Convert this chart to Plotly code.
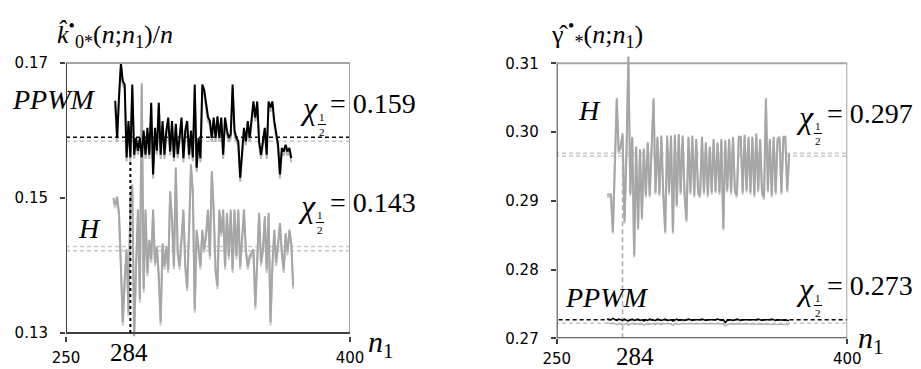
import plotly.graph_objects as go

# ---------------- data ----------------
N1_PPWM_L = list(range(276, 370))
PPWM_L = [0.1644,0.1589,0.1650,0.1700,0.1673,0.1668,0.1560,0.1614,0.1560,0.1668,
 0.1564,0.1589,0.1570,0.1589,0.1560,0.1600,0.1564,0.1604,0.1564,0.1641,
 0.1535,0.1604,0.1570,0.1641,0.1564,0.1614,0.1564,0.1600,0.1619,0.1569,
 0.1614,0.1560,0.1610,0.1565,0.1590,0.1619,0.1559,0.1600,0.1614,0.1564,
 0.1600,0.1560,0.1668,0.1545,0.1589,0.1559,0.1668,0.1660,0.1640,0.1620,
 0.1614,0.1589,0.1619,0.1589,0.1621,0.1589,0.1619,0.1564,0.1619,0.1600,
 0.1589,0.1594,0.1668,0.1600,0.1589,0.1584,0.1530,0.1574,0.1604,0.1584,
 0.1614,0.1589,0.1621,0.1643,0.1619,0.1643,0.1584,0.1564,0.1584,0.1604,
 0.1564,0.1643,0.1634,0.1643,0.1614,0.1594,0.1579,0.1535,0.1574,0.1569,
 0.1579,0.1569,0.1574,0.1559]
PPWM_L2 = [0.1638,0.1583,0.1644,0.1694,0.1667,0.1662,0.1554,0.1608,0.1554,0.1662,
 0.1558,0.1583,0.1564,0.1583,0.1554,0.1594,0.1558,0.1598,0.1558,0.1635,
 0.1529,0.1598,0.1564,0.1635,0.1558,0.1608,0.1558,0.1594,0.1613,0.1563,
 0.1608,0.1554,0.1604,0.1559,0.1584,0.1613,0.1553,0.1594,0.1608,0.1558,
 0.1594,0.1554,0.1662,0.1539,0.1583,0.1553,0.1662,0.1654,0.1634,0.1614,
 0.1608,0.1583,0.1613,0.1583,0.1615,0.1583,0.1613,0.1558,0.1613,0.1594,
 0.1583,0.1588,0.1662,0.1594,0.1583,0.1578,0.1524,0.1568,0.1598,0.1578,
 0.1608,0.1583,0.1615,0.1637,0.1613,0.1637,0.1578,0.1558,0.1578,0.1598,
 0.1558,0.1637,0.1628,0.1637,0.1608,0.1588,0.1573,0.1529,0.1568,0.1563,
 0.1573,0.1563,0.1568,0.1553]

N1_H_L = list(range(275, 371))
H_L = [0.1500,0.1490,0.1502,0.1478,0.1400,0.1316,0.1380,0.1424,0.1330,0.1500,
 0.1520,0.1296,0.1400,0.1483,0.1350,0.1670,0.1365,0.1483,0.1389,0.1438,
 0.1409,0.1483,0.1404,0.1428,0.1385,0.1316,0.1433,0.1399,0.1428,0.1394,
 0.1510,0.1470,0.1399,0.1545,0.1420,0.1399,0.1440,0.1483,0.1400,0.1367,
 0.1453,0.1550,0.1510,0.1335,0.1453,0.1420,0.1399,0.1453,0.1424,0.1448,
 0.1483,0.1414,0.1540,0.1483,0.1394,0.1370,0.1483,0.1448,0.1483,0.1399,
 0.1478,0.1414,0.1483,0.1394,0.1483,0.1414,0.1483,0.1399,0.1440,0.1483,
 0.1424,0.1399,0.1414,0.1420,0.1424,0.1340,0.1400,0.1478,0.1404,0.1424,
 0.1473,0.1394,0.1478,0.1316,0.1400,0.1453,0.1404,0.1430,0.1463,0.1420,
 0.1394,0.1448,0.1420,0.1453,0.1433,0.1370]
H_L2 = [0.1495,0.1485,0.1497,0.1473,0.1395,0.1311,0.1375,0.1419,0.1325,0.1495,
 0.1515,0.1291,0.1395,0.1478,0.1345,0.1665,0.1360,0.1478,0.1384,0.1433,
 0.1404,0.1478,0.1399,0.1423,0.1380,0.1311,0.1428,0.1394,0.1423,0.1389,
 0.1505,0.1465,0.1394,0.1540,0.1415,0.1394,0.1435,0.1478,0.1395,0.1362,
 0.1448,0.1545,0.1505,0.1330,0.1448,0.1415,0.1394,0.1448,0.1419,0.1443,
 0.1478,0.1409,0.1535,0.1478,0.1389,0.1365,0.1478,0.1443,0.1478,0.1394,
 0.1473,0.1409,0.1478,0.1389,0.1478,0.1409,0.1478,0.1394,0.1435,0.1478,
 0.1419,0.1394,0.1409,0.1415,0.1419,0.1335,0.1395,0.1473,0.1399,0.1419,
 0.1468,0.1389,0.1473,0.1311,0.1395,0.1448,0.1399,0.1425,0.1458,0.1415,
 0.1389,0.1443,0.1415,0.1448,0.1428,0.1365]

N1_R = list(range(276, 371))
H_R = [0.2909,0.2909,0.2909,0.2855,0.2975,0.3049,0.2972,0.2979,0.2998,0.2870,
 0.2969,0.3110,0.2910,0.2993,0.2821,0.2979,0.2860,0.2975,0.2875,0.2976,
 0.2908,0.2985,0.2908,0.2993,0.3049,0.2912,0.2993,0.2910,0.2995,0.2912,
 0.2855,0.2995,0.2912,0.2995,0.2855,0.2996,0.2894,0.2997,0.2912,0.2995,
 0.2910,0.2872,0.2993,0.2912,0.2995,0.2908,0.2990,0.2912,0.2908,0.2993,
 0.2912,0.2985,0.2908,0.2979,0.2912,0.2990,0.2914,0.2985,0.2912,0.2990,
 0.2860,0.2988,0.2915,0.2990,0.2912,0.2993,0.2915,0.2908,0.2993,0.2993,
 0.2912,0.2996,0.2915,0.2993,0.2912,0.2993,0.2908,0.2998,0.2915,0.2990,
 0.2912,0.2905,0.3049,0.2915,0.2990,0.2908,0.2993,0.2912,0.2990,0.2993,
 0.2912,0.2993,0.2993,0.2915,0.2969]
H_R2 = [0.2906,0.2906,0.2906,0.2852,0.2972,0.3046,0.2969,0.2976,0.2995,0.2867,
 0.2966,0.3107,0.2907,0.2990,0.2818,0.2976,0.2857,0.2972,0.2872,0.2973,
 0.2905,0.2982,0.2905,0.2990,0.3046,0.2909,0.2990,0.2907,0.2992,0.2909,
 0.2852,0.2992,0.2909,0.2992,0.2852,0.2993,0.2891,0.2994,0.2909,0.2992,
 0.2907,0.2869,0.2990,0.2909,0.2992,0.2905,0.2987,0.2909,0.2905,0.2990,
 0.2909,0.2982,0.2905,0.2976,0.2909,0.2987,0.2911,0.2982,0.2909,0.2987,
 0.2857,0.2985,0.2912,0.2987,0.2909,0.2990,0.2912,0.2905,0.2990,0.2990,
 0.2909,0.2993,0.2912,0.2990,0.2909,0.2990,0.2905,0.2995,0.2912,0.2987,
 0.2909,0.2902,0.3046,0.2912,0.2987,0.2905,0.2990,0.2909,0.2987,0.2990,
 0.2909,0.2990,0.2990,0.2912,0.2966]
PPWM_R = [0.2728,0.2728,0.2727,0.2729,0.2727,0.2726,0.2728,0.2727,0.2726,0.2728,
 0.2727,0.2725,0.2727,0.2728,0.2726,0.2727,0.2728,0.2726,0.2727,0.2725,
 0.2727,0.2726,0.2728,0.2727,0.2727,0.2726,0.2728,0.2727,0.2726,0.2727,
 0.2728,0.2726,0.2727,0.2727,0.2725,0.2727,0.2728,0.2726,0.2727,0.2727,
 0.2726,0.2727,0.2728,0.2727,0.2726,0.2727,0.2727,0.2726,0.2727,0.2728,
 0.2727,0.2726,0.2727,0.2727,0.2726,0.2727,0.2727,0.2728,0.2727,0.2726,
 0.2727,0.2723,0.2726,0.2727,0.2727,0.2726,0.2727,0.2728,0.2727,0.2726,
 0.2727,0.2727,0.2726,0.2727,0.2727,0.2726,0.2727,0.2727,0.2728,0.2727,
 0.2726,0.2727,0.2727,0.2726,0.2727,0.2728,0.2727,0.2726,0.2727,0.2727,
 0.2726,0.2727,0.2726,0.2726,0.2726]
PPWM_R2 = [0.2722,0.2722,0.2721,0.2722,0.2721,0.2720,0.2721,0.2721,0.2720,0.2721,
 0.2721,0.2719,0.2721,0.2722,0.2720,0.2721,0.2721,0.2720,0.2721,0.2719,
 0.2721,0.2720,0.2721,0.2721,0.2721,0.2720,0.2722,0.2721,0.2720,0.2721,
 0.2721,0.2720,0.2721,0.2721,0.2719,0.2721,0.2721,0.2720,0.2721,0.2721,
 0.2720,0.2721,0.2721,0.2721,0.2720,0.2721,0.2721,0.2720,0.2721,0.2721,
 0.2721,0.2720,0.2721,0.2721,0.2720,0.2721,0.2721,0.2721,0.2721,0.2720,
 0.2721,0.2718,0.2720,0.2721,0.2721,0.2720,0.2721,0.2721,0.2721,0.2720,
 0.2721,0.2721,0.2720,0.2721,0.2721,0.2720,0.2721,0.2721,0.2721,0.2721,
 0.2720,0.2721,0.2721,0.2720,0.2721,0.2721,0.2721,0.2720,0.2721,0.2721,
 0.2720,0.2721,0.2720,0.2720,0.2720]

# reference levels
CHI_L = {"PPWM": 0.159, "H": 0.143}
CHI_R = {"H": 0.297, "PPWM": 0.273}
REF_L_PPWM = [0.159, 0.1584]
REF_L_H = [0.1428, 0.1422]
REF_R_H = [0.2969, 0.2965]
REF_R_PPWM = [0.2727, 0.2722]
N1_OPT = 284
X_RANGE = [250, 400]
YTICKS_L = [0.13, 0.15, 0.17]
YTICKS_R = [0.27, 0.28, 0.29, 0.30, 0.31]

# ---------------- layout helpers ----------------
W, H = 921, 369
def fx(p): return p / W
def fy(p): return 1 - p / H

SERIF = "Liberation Serif"
SANS = "DejaVu Sans"
GRAY = "#a6a6a6"
LGRAY = "#c8c8c8"
DARK = "#404040"

fig = go.Figure()

def line(x, y, color, width, xa, ya):
    fig.add_trace(go.Scatter(x=x, y=y, mode="lines", xaxis=xa, yaxis=ya,
                             line=dict(color=color, width=width), hoverinfo="skip",
                             showlegend=False))

# left panel
line(N1_H_L, H_L2, LGRAY, 2, "x", "y")
line(N1_H_L, H_L, GRAY, 2, "x", "y")
line(N1_PPWM_L, PPWM_L2, "#b4b4b4", 2, "x", "y")
line(N1_PPWM_L, PPWM_L, "black", 2, "x", "y")
# right panel
line(N1_R, H_R2, LGRAY, 2, "x2", "y2")
line(N1_R, H_R, GRAY, 2, "x2", "y2")
line(N1_R, PPWM_R2, "#b4b4b4", 1.5, "x2", "y2")
line(N1_R, PPWM_R, "black", 1.5, "x2", "y2")

shapes = []
def seg(xr, yr, x0, y0, x1, y1, color, width, dash="solid", layer="above"):
    shapes.append(dict(type="line", xref=xr, yref=yr, x0=x0, y0=y0, x1=x1, y1=y1,
                       line=dict(color=color, width=width, dash=dash), layer=layer))

# frames left
yl0, yl1 = YTICKS_L[0], YTICKS_L[-1]
seg("x", "y", X_RANGE[0], yl1, X_RANGE[1], yl1, GRAY, 2)
seg("x", "y", X_RANGE[1], yl0, X_RANGE[1], yl1, GRAY, 2)
seg("x", "y", X_RANGE[0], yl0, X_RANGE[0], yl1, DARK, 2)
seg("x", "y", X_RANGE[0], yl0, X_RANGE[1], yl0, DARK, 2)
# frames right
yr0, yr1 = YTICKS_R[0], YTICKS_R[-1]
seg("x2", "y2", X_RANGE[0], yr1, X_RANGE[1], yr1, GRAY, 2)
seg("x2", "y2", X_RANGE[1], yr0, X_RANGE[1], yr1, GRAY, 2)
seg("x2", "y2", X_RANGE[0], yr0, X_RANGE[0], yr1, DARK, 2)
seg("x2", "y2", X_RANGE[0], yr0, X_RANGE[1], yr0, DARK, 2)

# reference lines left
seg("x", "y", X_RANGE[0], REF_L_PPWM[1], X_RANGE[1], REF_L_PPWM[1], LGRAY, 1.5, "4px,3px", "below")
seg("x", "y", X_RANGE[0], REF_L_PPWM[0], X_RANGE[1], REF_L_PPWM[0], "black", 1.5, "4px,3px", "below")
seg("x", "y", X_RANGE[0], REF_L_H[0], X_RANGE[1], REF_L_H[0], LGRAY, 1.5, "4px,3px", "below")
seg("x", "y", X_RANGE[0], REF_L_H[1], X_RANGE[1], REF_L_H[1], LGRAY, 1.5, "4px,3px", "below")
seg("x", "y", N1_OPT, yl0, N1_OPT, 0.1556, "black", 2, "3px,3px", "above")
# reference lines right
seg("x2", "y2", 245.5, REF_R_H[0], X_RANGE[1], REF_R_H[0], LGRAY, 1.5, "4px,3px", "below")
seg("x2", "y2", 245.5, REF_R_H[1], X_RANGE[1], REF_R_H[1], LGRAY, 1.5, "4px,3px", "below")
seg("x2", "y2", 245.5, REF_R_PPWM[1], X_RANGE[1], REF_R_PPWM[1], LGRAY, 1.5, "4px,3px", "below")
seg("x2", "y2", 251, REF_R_PPWM[0], X_RANGE[1], REF_R_PPWM[0], "black", 1.5, "4px,3px", "below")
seg("x2", "y2", N1_OPT, yr0, N1_OPT, 0.2967, "#b0b0b0", 1.5, "5px,3px", "below")

anns = []
def ann(text, x, y, size, xanchor="center", yanchor="middle", family=SERIF, color="black"):
    anns.append(dict(text=text, x=fx(x), y=fy(y), xref="paper", yref="paper",
                     xanchor=xanchor, yanchor=yanchor, showarrow=False,
                     font=dict(family=family, size=size, color=color)))

def chi(x_chi, y_val, value, x_eq):
    ann("<i>χ</i>", x_chi, y_val + 4, 32)
    ann("1", x_chi + 13, y_val + 13, 11)
    ann("2", x_chi + 13, y_val + 28, 11)
    shapes.append(dict(type="line", xref="paper", yref="paper",
                       x0=fx(x_chi + 9), x1=fx(x_chi + 17), y0=fy(y_val + 20.5), y1=fy(y_val + 20.5),
                       line=dict(color="black", width=1)))
    ann("= %.3f" % value, x_eq, y_val, 28, xanchor="left")

# left labels
ann("<i>PPWM</i>", 10, 100, 28, xanchor="left")
ann("<i>H</i>", 76, 228, 28, xanchor="left")
chi(309, 104, CHI_L["PPWM"], 328)
chi(307, 202, CHI_L["H"], 328)
ann(str(N1_OPT), 129, 352, 25)
ann("<i>n</i><sub>1</sub>", 366, 344, 30, xanchor="left")
# left title
ann("<i>k̂</i><sup>•</sup><sub>0*</sub>(<i>n</i>;<i>n</i><sub>1</sub>)/<i>n</i>", 55, 34, 26, xanchor="left")

# right labels
ann("<i>H</i>", 576, 110, 28, xanchor="left")
ann("<i>PPWM</i>", 563, 297, 28, xanchor="left")
chi(805, 113, CHI_R["H"], 825)
chi(805, 285, CHI_R["PPWM"], 825)
ann(str(N1_OPT), 635, 356, 25)
ann("<i>n</i><sub>1</sub>", 856, 340, 30, xanchor="left")
# right title
ann("γ̂<sup> •</sup><sub>*</sub>(<i>n</i>;<i>n</i><sub>1</sub>)", 549, 34, 26, xanchor="left")

axis_common = dict(showgrid=False, zeroline=False, showline=False, ticks="outside",
                   ticklen=5, tickwidth=1.5, tickcolor=DARK, automargin=False,
                   tickfont=dict(family=SANS, size=15, color="black"))

fig.update_layout(
    width=W, height=H, margin=dict(l=0, r=0, t=0, b=0, pad=0),
    paper_bgcolor="white", plot_bgcolor="white", showlegend=False,
    xaxis=dict(domain=[fx(66), fx(350)], range=X_RANGE, tickvals=X_RANGE,
               anchor="y", ticklabelstandoff=3, **axis_common),
    yaxis=dict(domain=[fy(336.4), fy(59.6)], range=[0.1295, 0.1705], tickvals=YTICKS_L,
               ticktext=["%.2f" % v for v in YTICKS_L], anchor="x", ticklabelstandoff=9,
               **axis_common),
    xaxis2=dict(domain=[fx(556.7), fx(847.3)], range=X_RANGE, tickvals=X_RANGE,
                anchor="y2", ticklabelstandoff=2, **axis_common),
    yaxis2=dict(domain=[fy(338.3), fy(53)], range=[0.27, 0.3115], tickvals=YTICKS_R,
                ticktext=["%.2f" % v for v in YTICKS_R], anchor="x2", ticklabelstandoff=9,
                **axis_common),
    shapes=shapes, annotations=anns,
)

fig.write_html("out.html", config={"displayModeBar": False},
               post_script="document.body.style.margin='0';document.body.style.overflow='hidden';")
